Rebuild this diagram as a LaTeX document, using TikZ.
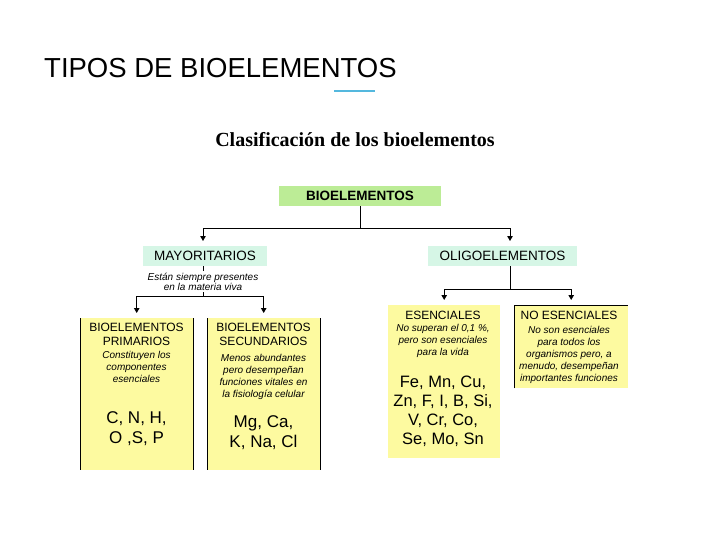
\documentclass[tikz,border=0pt]{standalone}
\usepackage{fontspec}
\setmainfont{Liberation Sans}
\newfontfamily\serifb{Liberation Serif}
\usetikzlibrary{arrows.meta}
\definecolor{boxgreen}{RGB}{188,236,150}
\definecolor{boxmint}{RGB}{214,246,230}
\definecolor{boxyellow}{RGB}{253,250,160}
\definecolor{accentblue}{RGB}{84,184,222}
\tikzset{
  arr/.style={-{Triangle[width=5.5pt,length=5pt]}, line width=0.9pt, shorten >=5pt},
  link/.style={line width=0.9pt},
  greenbox/.style={fill=boxgreen, minimum width=162pt, minimum height=20pt, inner sep=0pt, font=\fontsize{13.5}{15}\selectfont\bfseries},
  mintbox/.style={fill=boxmint, minimum height=20pt, inner sep=0pt, font=\fontsize{13.5}{15}\selectfont},
  yelbox/.style={fill=boxyellow, anchor=north west, inner sep=0pt},
  headtxt/.style={font=\fontsize{12}{14}\selectfont, align=center, anchor=north, inner sep=0pt},
  ittxt/.style={font=\fontsize{10}{12}\selectfont\itshape, align=center, anchor=north, inner sep=0pt},
  bigtxt/.style={font=\fontsize{17}{20}\selectfont, align=center, anchor=north, inner sep=0pt},
}
\begin{document}
\begin{tikzpicture}[x=1pt,y=-1pt]
\useasboundingbox (0,0) rectangle (720,540);
% title
\node[anchor=base west, inner sep=0pt, font=\fontsize{27.5}{30}\selectfont] (title) at (44,78) {TIPOS DE BIOELEMENTOS};
\draw[accentblue, line width=2.5pt] (334,91) -- (375,91);
\node[anchor=base, inner sep=0pt, font=\fontsize{20}{23}\selectfont\serifb\bfseries] (heading) at (355,147) {Clasificación de los bioelementos};
% level 1
\node[greenbox] (bio) at (360,196) {BIOELEMENTOS};
% level 2
\node[mintbox, minimum width=124pt] (may) at (205,256) {MAYORITARIOS};
\node[mintbox, minimum width=149pt] (oli) at (502.5,256) {OLIGOELEMENTOS};
\draw[arr] (bio.south) -- ++(0,22) -| (203,246);
\draw[arr] (bio.south) -- ++(0,22) -| (510,246);
% may text
\node[ittxt, font=\fontsize{10}{10.5}\selectfont\itshape, inner ysep=1.5pt] (est) at (203,271) {Están siempre presentes\\en la materia viva};
\draw[link] (203,266) -- (est.north);
% boxes primarios / secundarios
\node[yelbox, minimum width=113pt, minimum height=152pt] (prim) at (80,318) {};
\node[yelbox, minimum width=113pt, minimum height=152pt] (sec) at (207,318) {};
\draw[link] (prim.north west) -- (prim.south west);
\draw[link] (prim.north east) -- (prim.south east);
\draw[link] (sec.north west) -- (sec.south west);
\draw[link] (sec.north east) -- (sec.south east);
\coordinate (mayj) at (203,296);
\draw[link] (est.south) -- (mayj);
\draw[arr] (mayj) -| (prim.north);
\draw[arr] (mayj) -| (sec.north);
% oligo boxes
\node[yelbox, minimum width=112pt, minimum height=153pt] (ese) at (388,305) {};
\node[yelbox, minimum width=114pt, minimum height=83pt] (noe) at (514,305) {};
\draw[link] (noe.south west) -- (noe.north west) -- (noe.north east);
\coordinate (olij) at (510,289);
\draw[link] (oli.south -| olij) -- (olij);
\draw[arr] (olij) -| (ese.north);
\draw[arr] (olij) -| (noe.north);
% texts in boxes
\node[headtxt] (primh) at (136.5,323) {BIOELEMENTOS\\PRIMARIOS};
\node[ittxt] (primi) at (136.5,351) {Constituyen los\\componentes\\esenciales};
\node[bigtxt] (primb) at (136.5,411) {C, N, H,\\O ,S, P};
\node[headtxt] (sech) at (263.5,323) {BIOELEMENTOS\\SECUNDARIOS};
\node[ittxt] (seci) at (263.5,354) {Menos abundantes\\pero desempeñan\\funciones vitales en\\la fisiología celular};
\node[bigtxt] (secb) at (263.5,415) {Mg, Ca,\\K, Na, Cl};
\node[headtxt] (eseh) at (443,311) {ESENCIALES};
\node[ittxt] (esei) at (443,324) {No superan el 0,1 \%,\\pero son esenciales\\para la vida};
\node[bigtxt, font=\fontsize{16.5}{19}\selectfont] (eseb) at (443,376) {Fe, Mn, Cu,\\Zn, F, I, B, Si,\\V, Cr, Co,\\Se, Mo, Sn};
\node[headtxt] (noeh) at (569,311) {NO ESENCIALES};
\node[ittxt] (noei) at (569,326) {No son esenciales\\para todos los\\organismos pero, a\\menudo, desempeñan\\importantes funciones};
\end{tikzpicture}
\end{document}
